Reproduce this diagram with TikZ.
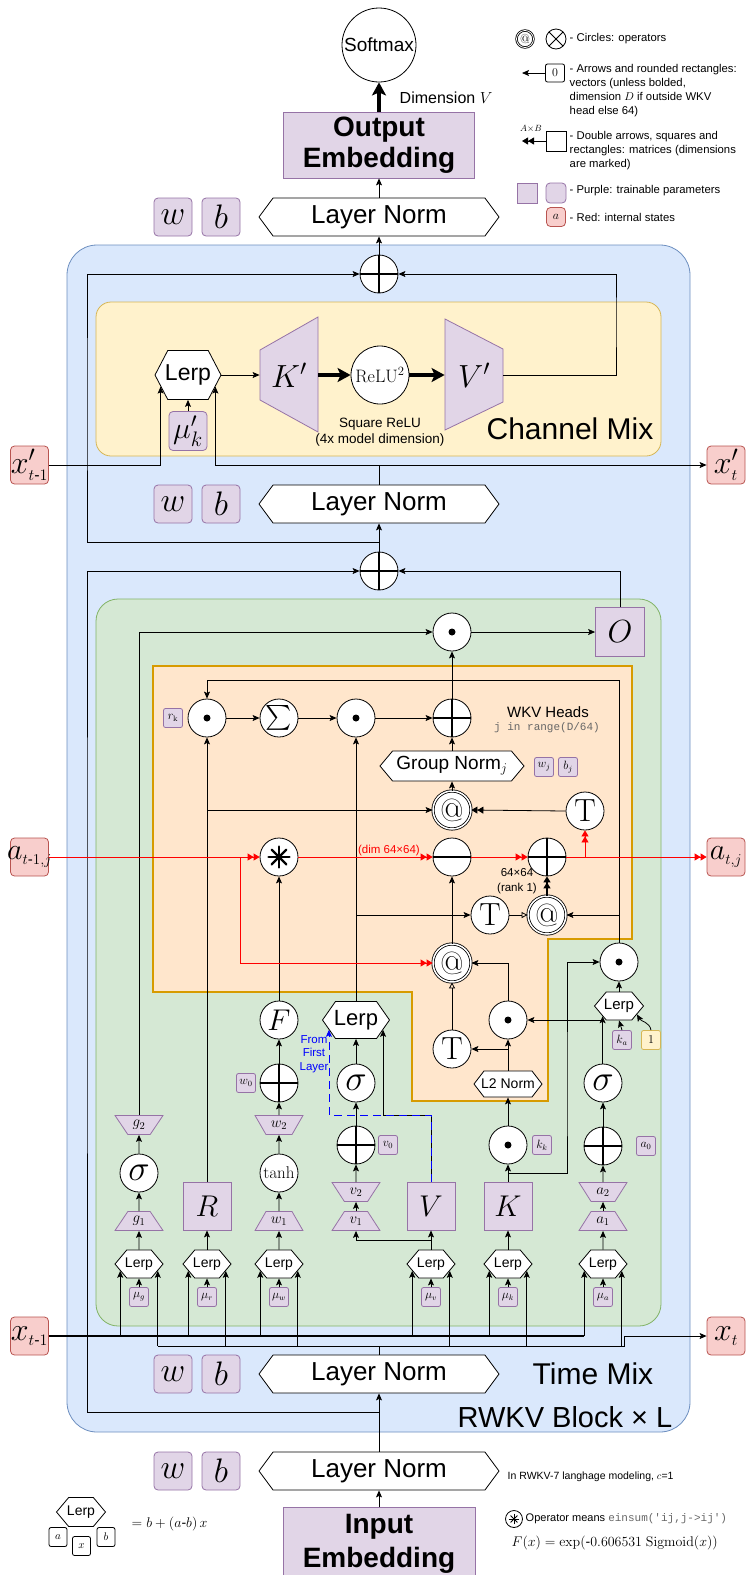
\RequirePackage{fix-cm}
\documentclass[tikz,border=0pt]{standalone}
\usepackage{amsmath}
\usepackage[no-math]{fontspec}
\setmainfont{Liberation Sans}
\setmonofont{Liberation Mono}
\usetikzlibrary{arrows.meta,calc,shapes.geometric,shapes.symbols}
\newcommand{\fsz}[2]{\fontsize{#1}{#2}\selectfont}

\begin{document}
\begin{tikzpicture}[x=1pt, y=-1pt, line width=0.8pt,
  arr/.style={-{Stealth[length=7pt,width=6pt,inset=1.5pt]}},
  darr/.style={-{Triangle[length=6pt,width=7pt]Triangle[length=6pt,width=7pt]}},
  oarr/.style={-{Triangle[open,length=6pt,width=6pt]}},
  bigarr/.style={line width=3.5pt,-{Stealth[length=13pt,width=14pt,inset=3pt]}},
  redarr/.style={red,darr},
  op/.style={circle, draw, fill=white, minimum size=38pt, inner sep=-6pt},
  opplus/.style={op, path picture={\draw[line width=2.2pt]
      (path picture bounding box.north) -- (path picture bounding box.south)
      (path picture bounding box.west) -- (path picture bounding box.east);}},
  opdot/.style={op, path picture={\fill[black] (path picture bounding box.center) circle (3.5pt);}},
  opminus/.style={op, path picture={\draw[line width=1.2pt]
      (path picture bounding box.west) -- (path picture bounding box.east);}},
  opast/.style={op, path picture={\foreach \a in {0,45,90,135}
      \draw[line width=#1, line cap=round]
        ($(path picture bounding box.center)!0.55!\a:(path picture bounding box.east)$) --
        ($(path picture bounding box.center)!-0.55!\a:(path picture bounding box.east)$);}},
  opat/.style={op, double, double distance=1.5pt, font=\fsz{32}{32}},
  optee/.style={op, font=\fsz{32}{32}},
  opsig/.style={op, font=\fsz{36}{36}},
  norm/.style={signal, signal to=east and west, draw, fill=white, inner xsep=-4pt, inner ysep=0pt},
  lerp/.style={norm, minimum width=48pt, minimum height=28pt, signal pointer angle=100, font=\fsz{14}{14}},
  layernorm/.style={norm, minimum width=240pt, minimum height=38pt, signal pointer angle=107, font=\fsz{26}{26}},
  param/.style={rectangle, rounded corners=4pt, draw=purple_line, fill=purple_param, minimum size=38pt, inner sep=-6pt, font=\fsz{34}{34}},
  smallparam/.style={param, rounded corners=2pt, minimum size=19pt, inner sep=-3pt, font=\fsz{12}{12}},
  mat/.style={rectangle, draw=purple_line, fill=purple_param, minimum size=48pt, inner sep=0pt, font=\fsz{30}{30}},
  trap/.style={trapezium, trapezium angle=52, trapezium stretches=true, draw=purple_line, fill=purple_param, minimum width=48pt, minimum height=19pt, inner sep=0pt, font=\fsz{15}{15}},
  trapdown/.style={trap, shape border rotate=180},
  state/.style={rectangle, rounded corners=4pt, draw=red_line, fill=red_state, minimum size=38pt, inner sep=-6pt, font=\fsz{32}{32}},
  legtext/.style={anchor=west, align=left, font=\fsz{11.3}{14}}]

  \definecolor{purple_param}{HTML}{E1D5E7}
  \definecolor{purple_line}{HTML}{9673A6}
  \definecolor{red_state}{HTML}{F8CECC}
  \definecolor{red_line}{HTML}{B85450}
  \definecolor{blue_block}{HTML}{DAE8FC}
  \definecolor{blue_line}{HTML}{6C8EBF}
  \definecolor{yellow_mix}{HTML}{FFF2CC}
  \definecolor{yellow_line}{HTML}{D6B656}
  \definecolor{green_mix}{HTML}{D5E8D4}
  \definecolor{green_line}{HTML}{82B366}
  \definecolor{orange_wkv}{HTML}{FFE6CC}
  \definecolor{orange_line}{HTML}{D79B00}

  \useasboundingbox (0,0) rectangle (746,1575);

  % Containers: block, channel mix, time mix, wkv heads

  \filldraw[fill=blue_block, draw=blue_line, rounded corners=30pt] (67,245) rectangle (690,1432);
  \filldraw[fill=yellow_mix, draw=yellow_line, rounded corners=15pt] (96,302) rectangle (661,456);
  \filldraw[fill=green_mix, draw=green_line, rounded corners=22pt] (96,599) rectangle (661,1326);
  \filldraw[fill=orange_wkv, draw=orange_line, line width=1.2pt] (153,666) -- (632,666) -- (632,939)
    -- (548,939) -- (548,1101) -- (412,1101) -- (412,992) -- (153,992) -- cycle;

  \node[font=\fsz{30}{30}] (cmlabel) at (570,429) {Channel Mix};
  \node[font=\fsz{30}{30}] (tmlabel) at (593,1374) {Time Mix};
  \node[font=\fsz{29}{29}] (blocklabel) at (565,1417) {RWKV Block × L};

  % Output head

  \node[op, minimum size=74pt, font=\fsz{19}{19}] (softmax) at (379,45) {Softmax};
  \node[mat, minimum width=191pt, minimum height=66pt, align=center, font=\bfseries\fsz{28}{31}] (outemb) at (379,145) {Output\\Embedding};
  \node[anchor=west, font=\fsz{16}{16}] (dimv) at (396,98) {Dimension $V$};
  \node[layernorm] (lnout) at (379,217) {Layer Norm};
  \node[param] (wout) at (173,217) {$w$};
  \node[param] (bout) at (221,217) {$b$};

  % Channel mix

  \node[opplus] (addtop) at (379,274) {};
  \node[norm, minimum width=66pt, minimum height=49pt, signal pointer angle=125, font=\fsz{23}{23}] (lerpc) at (188,375) {Lerp};
  \node[param, minimum height=39pt, font=\fsz{30}{30}] (mukc) at (188,431) {$\mu'_k$};
  \filldraw[fill=purple_param, draw=purple_line] (260,350) -- (318,317) -- (318,432) -- (260,400) -- cycle;
  \node[minimum width=58pt, minimum height=116pt, inner sep=0pt, font=\fsz{32}{32}] (kprime) at (289,375) {$K'$};
  \node[op, minimum size=58pt, font=\fsz{18}{18}] (relu) at (380,375) {$\mathrm{ReLU}^2$};
  \filldraw[fill=purple_param, draw=purple_line] (445,319) -- (503,349) -- (503,402) -- (445,430) -- cycle;
  \node[minimum width=58pt, minimum height=111pt, inner sep=0pt, font=\fsz{32}{32}] (vprime) at (474,375) {$V'$};
  \node[align=center, font=\fsz{13.5}{16}] (sqlabel) at (380,432) {Square ReLU\\(4x model dimension)};
  \node[state] (xprevc) at (29.5,465) {$x'_{\scriptscriptstyle t\text{-}1}$};
  \node[state] (xnowc) at (726,465) {$x'_{\scriptscriptstyle t}$};
  \node[layernorm] (lncm) at (379,504) {Layer Norm};
  \node[param] (wcm) at (173,504) {$w$};
  \node[param] (bcm) at (221,504) {$b$};
  \node[opplus] (addmid) at (379,571) {};

  \coordinate (resmid) at (379,542);
  \coordinate (leftcm) at (87,400);
  \coordinate (rightcm) at (616,320);

  \draw[arr] (addtop.north) -- (lnout.south);
  \draw[arr] (lnout.north) -- (outemb.south);
  \draw[bigarr] (outemb.north) -- (softmax.south);
  \draw[arr] (lerpc.east) -- (kprime.west);
  \draw[bigarr] (kprime.east) -- (relu.west);
  \draw[bigarr] (relu.east) -- (vprime.west);
  \draw[arr] (vprime.east) -| (rightcm) |- (addtop.east);
  \draw[arr] (mukc.north) -- (lerpc.south);
  \draw[arr] (xprevc.east) -| (lerpc.203);
  \draw[arr] (lncm.north) |- (xnowc.west);
  \draw[arr] (lncm.north |- xnowc.west) -| (lerpc.337);
  \draw[arr] (addmid.north) -- (lncm.south);
  \draw[arr] (resmid) -| (leftcm) |- (addtop.west);

  % Time mix: output gate and wkv heads

  \node[opdot] (gate) at (452,632) {};
  \node[mat, minimum size=49pt, font=\fsz{32}{32}] (obox) at (620,632) {$O$};
  \node[opdot] (dotr) at (207,718) {};
  \node[smallparam] (rk) at (173,718) {$r_{\mathrm{k}}$};
  \node[op, font=\fsz{26}{26}] (sum) at (279,718) {$\sum$};
  \node[opdot] (dotm) at (356,718) {};
  \node[opplus] (addwkv) at (452,718) {};
  \node[font=\fsz{15}{15}] (wkvlabel) at (548,712) {WKV Heads};
  \node[font=\ttfamily\fsz{11}{11}, text=black!60] (jlabel) at (547,728) {j in range(D/64)};
  \node[norm, minimum width=144pt, minimum height=30pt, signal pointer angle=100, font=\fsz{19}{19}] (gnorm) at (452,766) {Group Norm$_j$};
  \node[smallparam] (wj) at (544,767) {$w_j$};
  \node[smallparam] (bj) at (568,767) {$b_j$};
  \node[opat] (atup) at (452,810) {$@$};
  \node[optee] (tup) at (585,811) {$\mathrm{T}$};

  % Time mix: state path

  \node[state, font=\fsz{30}{30}] (aprev) at (29.5,857) {$a_{\scriptscriptstyle t\text{-}1,j}$};
  \node[opast=2.4pt] (ast) at (279,857) {};
  \node[opminus] (minus) at (452,857) {};
  \node[opplus] (addst) at (547,857) {};
  \node[state, font=\fsz{30}{30}] (anow) at (726,857) {$a_{\scriptscriptstyle t,j}$};
  \node[red, font=\fsz{11.5}{11.5}] (dimlabel) at (389,851) {(dim 64×64)};
  \node[align=center, font=\fsz{11.5}{15}] (ranklabel) at (517,881) {64×64\\(rank 1)};
  \node[optee] (tmid) at (490,915) {$\mathrm{T}$};
  \node[opat] (atmid) at (547,915) {$@$};
  \node[opat] (atlow) at (452,963) {$@$};
  \node[opdot] (dota) at (619,962) {};
  \node[lerp, minimum width=49pt, font=\fsz{15}{15}] (lerpka) at (619,1006) {Lerp};
  \node[smallparam] (ka) at (622,1040) {$k_a$};
  \node[smallparam, fill=yellow_mix, draw=yellow_line] (one) at (651,1040) {$1$};
  \node[opdot] (dotl2) at (508,1020) {};
  \node[optee] (tlow) at (452,1049) {$\mathrm{T}$};
  \node[norm, minimum width=68pt, minimum height=26pt, signal pointer angle=105, font=\fsz{14}{14}] (l2) at (508,1084) {L2 Norm};

  % Time mix: projections

  \node[op, font=\fsz{30}{30}] (ffun) at (279,1020) {$F$};
  \node[norm, minimum width=67pt, minimum height=37pt, signal pointer angle=110, font=\fsz{22}{22}] (lerpv) at (356,1020) {Lerp};
  \node[text=blue, align=center, font=\fsz{11.5}{13.5}] (firstlabel) at (314,1054) {From\\First\\Layer};
  \node[opplus] (addw) at (279,1083) {};
  \node[smallparam] (w0) at (246,1083) {$w_0$};
  \node[opsig] (sigmav) at (356,1083) {$\sigma$};
  \node[opsig] (sigmaa) at (603,1083) {$\sigma$};
  \node[trapdown] (g2) at (139,1125) {$g_2$};
  \node[trapdown] (w2) at (279,1125) {$w_2$};
  \node[opplus] (addv) at (356,1145) {};
  \node[smallparam] (v0) at (388,1145) {$v_0$};
  \node[opdot] (dotkk) at (508,1145) {};
  \node[smallparam] (kk) at (542,1145) {$k_k$};
  \node[opplus] (adda) at (603,1146) {};
  \node[smallparam] (a0) at (646,1146) {$a_0$};
  \node[opsig] (sigmag) at (139,1173) {$\sigma$};
  \node[op, font=\fsz{17}{17}] (tanh) at (279,1173) {$\tanh$};
  \node[trapdown] (v2) at (356,1192) {$v_2$};
  \node[trapdown] (a2) at (603,1192) {$a_2$};
  \node[mat] (rbox) at (207,1206) {$R$};
  \node[mat] (vbox) at (431,1206) {$V$};
  \node[mat] (kbox) at (508,1206) {$K$};
  \node[trap] (g1) at (139,1221) {$g_1$};
  \node[trap] (w1) at (279,1221) {$w_1$};
  \node[trap] (v1) at (356,1221) {$v_1$};
  \node[trap] (a1) at (603,1221) {$a_1$};

  % Time mix: token shift lerps

  \node[lerp] (lerpg) at (139,1264) {Lerp};
  \node[lerp] (lerpr) at (207,1264) {Lerp};
  \node[lerp] (lerpw) at (279,1264) {Lerp};
  \node[lerp] (lerpvv) at (431,1264) {Lerp};
  \node[lerp] (lerpk) at (508,1264) {Lerp};
  \node[lerp] (lerpa) at (603,1264) {Lerp};
  \node[smallparam] (mug) at (139,1297) {$\mu_g$};
  \node[smallparam] (mur) at (207,1297) {$\mu_r$};
  \node[smallparam] (muw) at (279,1297) {$\mu_w$};
  \node[smallparam] (muv) at (431,1297) {$\mu_v$};
  \node[smallparam] (muk) at (508,1297) {$\mu_k$};
  \node[smallparam] (mua) at (603,1297) {$\mu_a$};
  \node[state] (xprev) at (29.5,1336) {$x_{\scriptscriptstyle t\text{-}1}$};
  \node[state] (xnow) at (726,1336) {$x_{\scriptscriptstyle t}$};
  \node[layernorm] (lntm) at (379,1374) {Layer Norm};
  \node[param] (wtm) at (173,1374) {$w$};
  \node[param] (btm) at (221,1374) {$b$};

  % Input side

  \node[layernorm] (lnin) at (379,1471) {Layer Norm};
  \node[param] (win) at (173,1471) {$w$};
  \node[param] (bin) at (221,1471) {$b$};
  \node[mat, anchor=north, minimum width=192pt, minimum height=72pt, align=center, font=\bfseries\fsz{28}{34}] (inemb) at (379,1507) {Input\\Embedding};

  \coordinate (fbk) at (400,680);
  \coordinate (kjoin) at (508,1173);
  \coordinate (kright) at (567,1100);
  \coordinate (vjoin) at (431,1240);
  \coordinate (vtop) at (431,1115);
  \coordinate (redjoin) at (240,857);
  \coordinate (busnow) at (379,1346);
  \coordinate (resin) at (379,1412);
  \coordinate (lefttm) at (87,900);

  % Connections inside the wkv heads

  \draw[arr] (gate.east) -- (obox.west);
  \draw[arr] (obox.north) |- (addmid.east);
  \draw[arr] (g2.north) |- (gate.west);
  \draw[arr] (addwkv.north) -- (gate.south);
  \draw[arr] (dotr.east) -- (sum.west);
  \draw[arr] (sum.east) -- (dotm.west);
  \draw[arr] (dotm.east) -- (addwkv.west);
  \draw[arr] (gnorm.north) -- (addwkv.south);
  \draw[arr] (atup.north) -- (gnorm.south);
  \draw[darr] (tup.west) -- (atup.east);
  \draw[arr] (rbox.north) -- (dotr.south);
  \draw[arr] (rbox.north |- atup.west) -- (atup.west);
  \draw[arr] (dota.north) |- (fbk) -| (dotr.north);
  \draw[arr] (dota.north |- atmid.east) -- (atmid.east);
  \draw[arr] (lerpv.north) -- (dotm.south);
  \draw[arr] (lerpv.north |- tmid.west) -- (tmid.west);
  \draw[oarr] (tmid.east) -- (atmid.west);
  \draw[darr, line width=1.6pt] (atmid.north) -- (addst.south);
  \draw[arr] (atlow.north) -- (minus.south);
  \draw[oarr] (tlow.north) -- (atlow.south);
  \draw[arr] (dotl2.north) |- (atlow.east);
  \draw[arr] (l2.north) -- (dotl2.south);
  \draw[arr] (l2.north |- tlow.east) -- (tlow.east);
  \draw[arr] (dotkk.north) -- (l2.south);
  \draw[arr] (kbox.north) -- (dotkk.south);
  \draw[arr] (kjoin) -| (kright) |- (dota.west);
  \draw[arr] (lerpka.north) -- (dota.south);
  \draw[arr] (lerpka.212 |- sigmaa.north) -- (lerpka.212);
  \draw[arr] (lerpka.212 |- dotl2.east) -- (dotl2.east);
  \draw[arr] (ka.north) -- (lerpka.south);
  \draw[arr] (one.north) to[out=100, in=-60] (lerpka.335);

  % Connections of the projections

  \draw[arr] (adda.north) -- (sigmaa.south);
  \draw[arr] (a2.north) -- (adda.south);
  \draw[arr] (a1.north) -- (a2.south);
  \draw[arr] (lerpa.north) -- (a1.south);
  \draw[arr] (lerpk.north) -- (kbox.south);
  \draw[arr] (lerpvv.north) -- (vbox.south);
  \draw[arr] (vjoin) -| (v1.south);
  \draw[arr] (v1.north) -- (v2.south);
  \draw[arr] (v2.north) -- (addv.south);
  \draw[arr] (addv.north) -- (sigmav.south);
  \draw[arr] (sigmav.north) -- (lerpv.south);
  \draw[arr] (vbox.north) -- (vtop) -| (lerpv.340);
  \draw[arr, blue, dash pattern=on 8pt off 5pt] (vbox.north) -- (vtop) -| (lerpv.200);
  \draw[arr] (ffun.north) -- (ast.south);
  \draw[arr] (addw.north) -- (ffun.south);
  \draw[arr] (w2.north) -- (addw.south);
  \draw[arr] (tanh.north) -- (w2.south);
  \draw[arr] (w1.north) -- (tanh.south);
  \draw[arr] (lerpw.north) -- (w1.south);
  \draw[arr] (sigmag.north) -- (g2.south);
  \draw[arr] (g1.north) -- (sigmag.south);
  \draw[arr] (lerpg.north) -- (g1.south);
  \draw[arr] (lerpr.north) -- (rbox.south);

  % Token shift buses and residuals

  \draw[line width=1.8pt] (xprev.east) -- (lerpa.200 |- xprev.east);
  \draw (lerpg.340 |- busnow) -- (lerpa.340 |- busnow);
  \draw (lntm.north) -- (lntm.north |- busnow);
  \foreach \n in {lerpg,lerpr,lerpw,lerpvv,lerpk,lerpa} {
    \draw[arr] (\n.200 |- xprev.east) -- (\n.200);
    \draw[arr] (\n.340 |- busnow) -- (\n.340);
  }
  \foreach \n/\m in {mug/lerpg,mur/lerpr,muw/lerpw,muv/lerpvv,muk/lerpk,mua/lerpa}
    \draw[arr] (\n.north) -- (\m.south);
  \draw[arr] (lerpa.340 |- busnow) -- ++(3,0) -- ++(0,-10) -- (xnow.west);
  \draw[arr] (inemb.north) -- (lnin.south);
  \draw[arr] (lnin.north) -- (lntm.south);
  \draw[arr] (resin) -| (lefttm) |- (addmid.west);

  % State path in red

  \draw[redarr] (aprev.east) -- (ast.west);
  \draw[redarr] (redjoin) |- (atlow.west);
  \draw[redarr] (ast.east) -- (minus.west);
  \draw[redarr] (minus.east) -- (addst.west);
  \draw[redarr] (addst.east) -- (anow.west);
  \draw[redarr] (tup.south |- addst.east) -- (tup.south);

  % Legend

  \node[opat, minimum size=17pt, double distance=0.8pt, font=\fsz{13}{13}] (legat) at (525,39) {$@$};
  \node[op, minimum size=20pt, path picture={\draw
      ($(path picture bounding box.center)+(45:10pt)$) -- ($(path picture bounding box.center)+(225:10pt)$)
      ($(path picture bounding box.center)+(135:10pt)$) -- ($(path picture bounding box.center)+(315:10pt)$);}] (legx) at (556,39) {};
  \node[legtext] (legcircle) at (566,39) {- Circles: operators};
  \node[rectangle, rounded corners=2pt, draw, fill=white, minimum width=19pt, minimum height=18pt, font=\fsz{12}{12}] (legvec) at (555,73) {$0$};
  \coordinate (legvecend) at (522,73);
  \draw[arr] (legvec.west) -- (legvecend);
  \node[legtext, anchor=north west] (legarrow) at (566,61) {- Arrows and rounded rectangles:\\vectors (unless bolded,\\dimension $D$ if outside WKV\\head else 64)};
  \node[rectangle, draw, fill=white, minimum size=20pt] (legmat) at (556,141) {};
  \coordinate (legmatend) at (522,141);
  \draw[darr] (legmat.west) -- (legmatend);
  \node[font=\fsz{9}{9}] (legab) at (531,129) {$A{\times}B$};
  \node[legtext, anchor=north west] (legdouble) at (566,128) {- Double arrows, squares and\\rectangles: matrices (dimensions\\are marked)};
  \node[mat, minimum size=20pt] (legp1) at (527,193) {};
  \node[param, minimum size=20pt] (legp2) at (556,193) {};
  \node[legtext] (legpurple) at (566,191) {- Purple: trainable parameters};
  \node[state, minimum size=19pt, font=\fsz{12}{12}] (legred) at (556,217) {$a$};
  \node[legtext] (legredtxt) at (566,217) {- Red: internal states};

  \node[norm, minimum width=49pt, minimum height=29pt, signal pointer angle=100, font=\fsz{14}{14}] (leglerp) at (81,1512) {Lerp};
  \node[rectangle, rounded corners=2pt, draw, fill=white, minimum width=18pt, minimum height=19pt, font=\fsz{11}{11}] (lega) at (58,1537) {$a$};
  \node[rectangle, rounded corners=2pt, draw, fill=white, minimum width=18pt, minimum height=19pt, font=\fsz{11}{11}] (legxx) at (81.5,1546) {$x$};
  \node[rectangle, rounded corners=2pt, draw, fill=white, minimum width=18pt, minimum height=19pt, font=\fsz{11}{11}] (legb) at (106,1537) {$b$};
  \node[anchor=west, font=\fsz{14}{14}] (legeq) at (128,1524) {$= b + (a\text{-}b)\, x$};
  \node[anchor=west, font=\fsz{10.5}{10.5}] (lmnote) at (504,1477) {In RWKV-7 langhage modeling, $c$=1};
  \node[opast=1pt, minimum size=15pt] (legast) at (514,1519) {};
  \node[anchor=west, font=\fsz{11}{11}] (einsum) at (522,1519) {Operator means {\ttfamily\color{black!60}einsum('ij,j->ij')}};
  \node[anchor=west, font=\fsz{14}{14}] (fdef) at (508,1543) {$F(x) = \exp(\text{-}0.606531\ \mathrm{Sigmoid}(x))$};

\end{tikzpicture}
\end{document}
